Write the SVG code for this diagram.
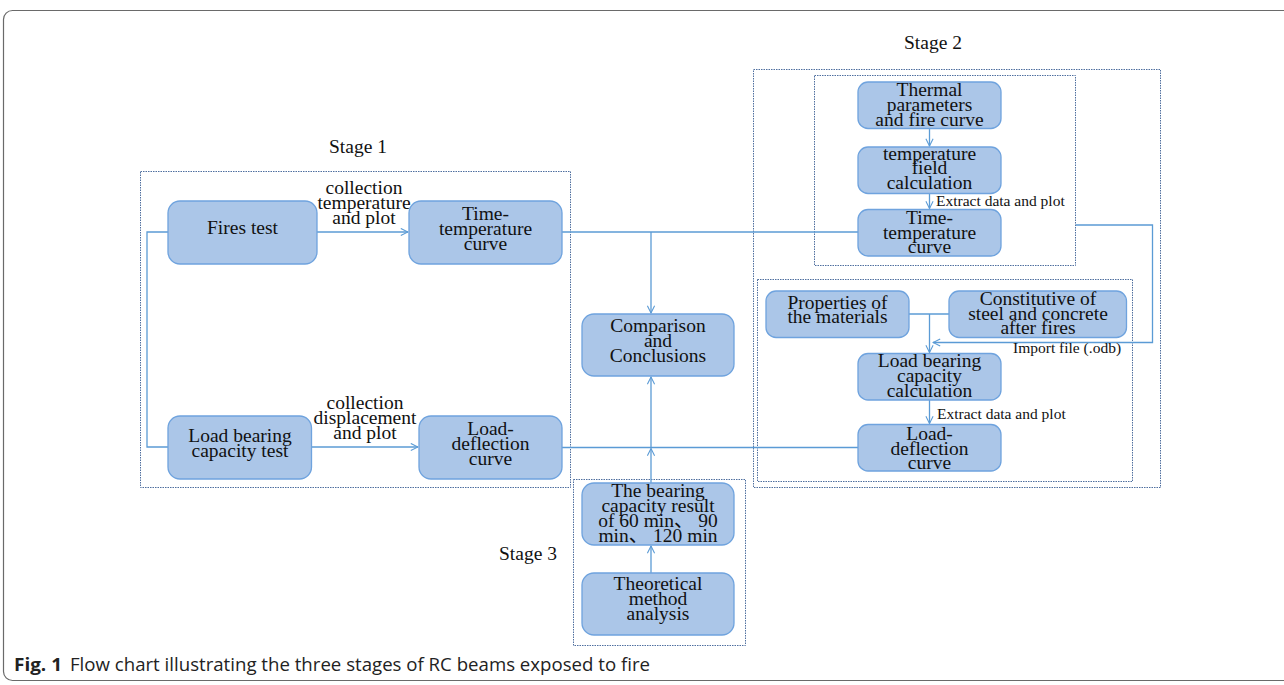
<svg xmlns="http://www.w3.org/2000/svg" width="1284" height="685" viewBox="0 0 1284 685">
<defs>
<marker id="arr" viewBox="0 0 10 10" refX="9" refY="5" markerWidth="9" markerHeight="9" markerUnits="userSpaceOnUse" orient="auto">
<path d="M1,1 L9,5 L1,9" fill="none" stroke="#5b9bd5" stroke-width="1.2"/>
</marker>
<style>
.frame{fill:none;stroke:#6a6a6a;stroke-width:1.2}
.grp{fill:none;stroke:#4f6f9f;stroke-width:1;stroke-dasharray:1.5 1}
.box{fill:#abc6e8;stroke:#6fa3de;stroke-width:1.3}
.t{font-family:"Liberation Serif","Times New Roman","Noto Sans CJK SC",serif;font-size:19.5px;fill:#111;text-anchor:middle}
.s{font-family:"Liberation Serif","Times New Roman",serif;font-size:15.5px;fill:#111}
.ln{fill:none;stroke:#5b9bd5;stroke-width:1.3}
.cap{font-family:"Open Sans","Liberation Sans",sans-serif;font-size:17.5px;fill:#222}
</style>
</defs>
<rect class="frame" x="3.5" y="10.5" width="1300" height="670" rx="9"/>
<text class="cap" x="14" y="671" font-weight="bold" textLength="48" lengthAdjust="spacingAndGlyphs">Fig. 1</text>
<text class="cap" x="70" y="671" textLength="580" lengthAdjust="spacingAndGlyphs">Flow chart illustrating the three stages of RC beams exposed to fire</text>

<g id="groups">
<rect class="grp" x="140.5" y="171.5" width="430" height="316"/>
<rect class="grp" x="753.5" y="69.5" width="407" height="418"/>
<rect class="grp" x="814.5" y="75.5" width="261" height="190"/>
<rect class="grp" x="757.5" y="279.5" width="375" height="202"/>
<rect class="grp" x="573.5" y="479.5" width="172" height="166"/>
<text class="t" x="358" y="153">Stage 1</text>
<text class="t" x="933" y="49">Stage 2</text>
<text class="t" x="528" y="560">Stage 3</text>
</g>

<g id="connectors">
<polyline class="ln" points="168,232 147,232 147,447 168,447"/>
<line class="ln" x1="317" y1="232" x2="408" y2="232" marker-end="url(#arr)"/>
<line class="ln" x1="312" y1="447" x2="418" y2="447" marker-end="url(#arr)"/>
<line class="ln" x1="562" y1="232" x2="858" y2="232"/>
<line class="ln" x1="562" y1="447.5" x2="858" y2="447.5"/>
<line class="ln" x1="651" y1="232" x2="651" y2="313" marker-end="url(#arr)"/>
<line class="ln" x1="651" y1="483" x2="651" y2="448.5" marker-end="url(#arr)"/>
<line class="ln" x1="651" y1="447.5" x2="651" y2="377" marker-end="url(#arr)"/>
<line class="ln" x1="651" y1="573" x2="651" y2="546" marker-end="url(#arr)"/>
<line class="ln" x1="929.5" y1="128" x2="929.5" y2="146" marker-end="url(#arr)"/>
<line class="ln" x1="929.5" y1="193" x2="929.5" y2="208.5" marker-end="url(#arr)"/>
<polyline class="ln" points="1076,225 1152.5,225 1152.5,342.5 933,342.5" marker-end="url(#arr)"/>
<line class="ln" x1="909" y1="314" x2="949" y2="314"/>
<line class="ln" x1="929.5" y1="314" x2="929.5" y2="352.5" marker-end="url(#arr)"/>
<line class="ln" x1="929.5" y1="400" x2="929.5" y2="423.5" marker-end="url(#arr)"/>
<text class="t" x="364" y="194">collection</text>
<text class="t" x="364" y="209">temperature</text>
<text class="t" x="364" y="224">and plot</text>
<text class="t" x="365" y="409">collection</text>
<text class="t" x="365" y="424">displacement</text>
<text class="t" x="365" y="439">and plot</text>
<text class="s" x="936" y="205.5">Extract data and plot</text>
<text class="s" x="937" y="419">Extract data and plot</text>
<text class="s" x="1013" y="353">Import file (.odb)</text>
</g>

<g id="fires-test">
<rect class="box" x="168" y="201" width="149" height="63" rx="12"/>
<text class="t" x="242.5" y="234">Fires test</text>
</g>
<g id="time-temp-1">
<rect class="box" x="409" y="201" width="153" height="63" rx="12"/>
<text class="t" x="485.5" y="220">Time-</text>
<text class="t" x="485.5" y="235">temperature</text>
<text class="t" x="485.5" y="249.5">curve</text>
</g>
<g id="load-test">
<rect class="box" x="168" y="416" width="143.5" height="63" rx="12"/>
<text class="t" x="240" y="442">Load bearing</text>
<text class="t" x="240" y="457">capacity test</text>
</g>
<g id="load-deflection-1">
<rect class="box" x="419" y="416" width="143" height="63" rx="12"/>
<text class="t" x="490.5" y="435">Load-</text>
<text class="t" x="490.5" y="450">deflection</text>
<text class="t" x="490.5" y="464.5">curve</text>
</g>
<g id="comparison">
<rect class="box" x="582" y="314" width="152" height="62" rx="12"/>
<text class="t" x="658" y="331.5">Comparison</text>
<text class="t" x="658" y="346.5">and</text>
<text class="t" x="658" y="361.5">Conclusions</text>
</g>
<g id="bearing-result">
<rect class="box" x="582" y="483" width="152" height="62" rx="12"/>
<text class="t" x="658" y="497">The bearing</text>
<text class="t" x="658" y="512">capacity result</text>
<text class="t" x="658" y="527">of 60 min、 90</text>
<text class="t" x="658" y="542">min、 120 min</text>
</g>
<g id="theoretical">
<rect class="box" x="582" y="573" width="152" height="62" rx="12"/>
<text class="t" x="658" y="590">Theoretical</text>
<text class="t" x="658" y="605">method</text>
<text class="t" x="658" y="619.5">analysis</text>
</g>
<g id="thermal">
<rect class="box" x="858" y="82" width="143" height="46.5" rx="10"/>
<text class="t" x="929.5" y="96">Thermal</text>
<text class="t" x="929.5" y="111">parameters</text>
<text class="t" x="929.5" y="125.5">and fire curve</text>
</g>
<g id="temp-field">
<rect class="box" x="858" y="147" width="143" height="46.5" rx="10"/>
<text class="t" x="929.5" y="159.5">temperature</text>
<text class="t" x="929.5" y="174">field</text>
<text class="t" x="929.5" y="189">calculation</text>
</g>
<g id="time-temp-2">
<rect class="box" x="858" y="209.5" width="143" height="46.5" rx="10"/>
<text class="t" x="929.5" y="223.5">Time-</text>
<text class="t" x="929.5" y="238.5">temperature</text>
<text class="t" x="929.5" y="253">curve</text>
</g>
<g id="properties">
<rect class="box" x="766" y="291" width="143" height="46.5" rx="10"/>
<text class="t" x="837.5" y="308.5">Properties of</text>
<text class="t" x="837.5" y="323">the materials</text>
</g>
<g id="constitutive">
<rect class="box" x="949" y="291" width="177.5" height="46.5" rx="10"/>
<text class="t" x="1038" y="305">Constitutive of</text>
<text class="t" x="1038" y="319.5">steel and concrete</text>
<text class="t" x="1038" y="334">after fires</text>
</g>
<g id="load-calc">
<rect class="box" x="858" y="353.5" width="143" height="46.5" rx="10"/>
<text class="t" x="929.5" y="367">Load bearing</text>
<text class="t" x="929.5" y="381.5">capacity</text>
<text class="t" x="929.5" y="396.5">calculation</text>
</g>
<g id="load-deflection-2">
<rect class="box" x="858" y="424.5" width="143" height="46.5" rx="10"/>
<text class="t" x="929.5" y="439.5">Load-</text>
<text class="t" x="929.5" y="454.5">deflection</text>
<text class="t" x="929.5" y="468.5">curve</text>
</g>
</svg>
